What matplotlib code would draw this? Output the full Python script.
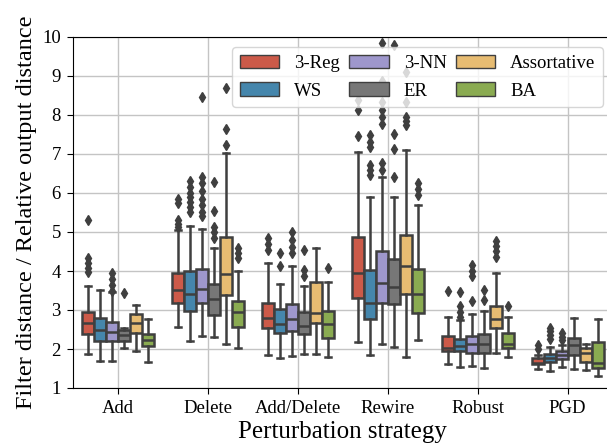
import matplotlib
matplotlib.use("Agg")
import matplotlib.pyplot as plt
from matplotlib.patches import Patch
import seaborn as sns

strategies = ["Add", "Delete", "Add/Delete", "Rewire", "Robust", "PGD"]
networks = ["3-Reg", "WS", "3-NN", "ER", "Assortative", "BA"]

# box stats, one row per strategy, one column per network
whislo = [
    [1.86, 1.70, 1.69, 2.02, 1.96, 1.66],
    [2.57, 2.21, 2.33, 2.30, 2.14, 2.02],
    [1.85, 1.78, 1.82, 1.86, 1.86, 1.80],
    [2.19, 1.85, 2.13, 2.06, 1.80, 2.23],
    [1.61, 1.55, 1.56, 1.51, 1.91, 1.79],
    [1.48, 1.44, 1.55, 1.48, 1.46, 1.32],
]
q1 = [
    [2.38, 2.21, 2.21, 2.21, 2.40, 2.08],
    [3.17, 2.98, 3.17, 2.87, 3.38, 2.57],
    [2.53, 2.40, 2.47, 2.38, 2.66, 2.29],
    [3.32, 2.76, 3.17, 3.15, 3.40, 2.92],
    [1.95, 1.96, 1.89, 1.91, 2.53, 2.03],
    [1.61, 1.66, 1.74, 1.85, 1.66, 1.51],
]
med = [
    [2.66, 2.50, 2.44, 2.36, 2.67, 2.23],
    [3.51, 3.42, 3.54, 3.27, 3.92, 2.96],
    [2.79, 2.63, 2.76, 2.59, 2.92, 2.64],
    [3.94, 3.19, 3.68, 3.60, 4.13, 3.41],
    [2.03, 2.08, 2.13, 2.12, 2.77, 2.12],
    [1.65, 1.78, 1.85, 2.10, 1.91, 1.65],
]
q3 = [
    [2.96, 2.80, 2.70, 2.49, 2.90, 2.38],
    [3.94, 4.01, 4.04, 3.67, 4.87, 3.22],
    [3.19, 3.02, 3.15, 2.96, 3.73, 2.98],
    [4.88, 4.03, 4.52, 4.30, 4.92, 4.04],
    [2.33, 2.26, 2.34, 2.38, 3.09, 2.42],
    [1.78, 1.86, 1.96, 2.27, 2.03, 2.17],
]
whishi = [
    [3.62, 3.51, 3.45, 2.55, 3.13, 2.76],
    [5.05, 5.15, 5.08, 4.58, 7.03, 4.00],
    [4.20, 3.67, 4.13, 3.62, 4.58, 3.71],
    [7.06, 5.89, 6.40, 5.89, 7.09, 5.69],
    [2.81, 2.74, 2.90, 2.97, 3.96, 2.81],
    [1.85, 2.04, 2.10, 2.79, 2.14, 2.77],
]
fliers = [
    [[5.31, 4.33, 4.20, 4.08, 3.98], [], [3.95, 3.80, 3.65, 3.50], [3.44], [], []],
    [[5.85, 5.75, 5.30, 5.20, 5.12], [6.30, 6.15, 6.00, 5.90, 5.78, 5.65, 5.50],
     [8.47, 6.40, 6.25, 6.05, 5.85, 5.70, 5.50, 5.40], [6.29, 5.54, 5.12, 5.00, 4.85],
     [8.68, 7.63, 7.23], [4.60, 4.45, 4.33]],
    [[4.85, 4.70, 4.55], [4.45, 4.12], [5.00, 4.80, 4.62, 4.45], [4.54, 4.02, 3.88], [], [4.07]],
    [[8.38, 8.13, 7.45], [7.49, 7.32, 7.17, 6.72, 6.58, 6.46],
     [9.85, 8.86, 8.34, 8.13, 7.95, 7.78, 6.77, 6.60], [9.79, 7.51, 7.12, 6.42],
     [9.11, 8.34, 7.96, 7.85, 7.74], [6.25, 6.10, 5.95]],
    [[3.50], [3.47, 3.10, 2.95, 2.82], [4.15, 4.00, 3.88, 3.22], [3.51, 3.26],
     [4.78, 4.65, 4.50, 4.35], [3.09]],
    [[2.10, 2.00], [2.55, 2.45, 2.35, 2.25], [2.42, 2.32, 2.22], [], [], []],
]

base_colors = ["#E24A33", "#348ABD", "#988ED5", "#777777", "#FBC15E", "#8EBA42"]
colors = [sns.desaturate(c, 0.75) for c in base_colors]
line_col = "#3f3f3f"

plt.rcParams["font.family"] = ["Liberation Serif", "DejaVu Serif"]

fig = plt.figure(figsize=(6.07, 4.46), dpi=100)
ax = fig.add_axes([72.7 / 607, 58 / 446, 540 / 607, 351 / 446])

n = len(networks)
step = 0.8 / n
for j, net in enumerate(networks):
    stats = []
    pos = []
    for i in range(len(strategies)):
        stats.append(dict(med=med[i][j], q1=q1[i][j], q3=q3[i][j],
                          whislo=whislo[i][j], whishi=whishi[i][j],
                          fliers=fliers[i][j]))
        pos.append(i - 0.4 + step * (j + 0.5))
    ax.bxp(stats, positions=pos, widths=step * 0.98, patch_artist=True,
           manage_ticks=False,
           boxprops=dict(facecolor=colors[j], edgecolor=line_col, linewidth=1.8),
           medianprops=dict(color=line_col, linewidth=1.8),
           whiskerprops=dict(color=line_col, linewidth=1.8),
           capprops=dict(color=line_col, linewidth=1.8),
           flierprops=dict(marker="d", markerfacecolor=line_col,
                           markeredgecolor=line_col, markersize=5.5))

ax.set_xlim(-0.5, len(strategies) - 0.5)
ax.set_ylim(1, 10)
ax.set_xticks(range(len(strategies)))
ax.set_xticklabels(strategies, fontsize=13.5)
ax.set_yticks(range(1, 11))
ax.tick_params(axis="y", labelsize=13.5)
ax.tick_params(length=4, pad=4.5)
ax.grid(True, color="#c4c4c4", linewidth=1)
ax.set_axisbelow(True)
ax.set_xlabel("Perturbation strategy", fontsize=18, labelpad=3)
ax.set_ylabel("Filter distance / Relative output distance", fontsize=17.5, labelpad=4)

handles = [Patch(facecolor=colors[j], edgecolor=line_col, linewidth=1) for j in range(n)]
ax.legend(handles, networks, ncol=3, loc="upper right",
          bbox_to_anchor=(603 / 607, 1 - 47 / 446), bbox_transform=fig.transFigure,
          borderaxespad=0, fontsize=13.5, handlelength=2.1, handleheight=0.75,
          handletextpad=0.8, columnspacing=0.5, labelspacing=0.55,
          framealpha=0.8, edgecolor="#cccccc")

fig.savefig("out.png", dpi=100)
